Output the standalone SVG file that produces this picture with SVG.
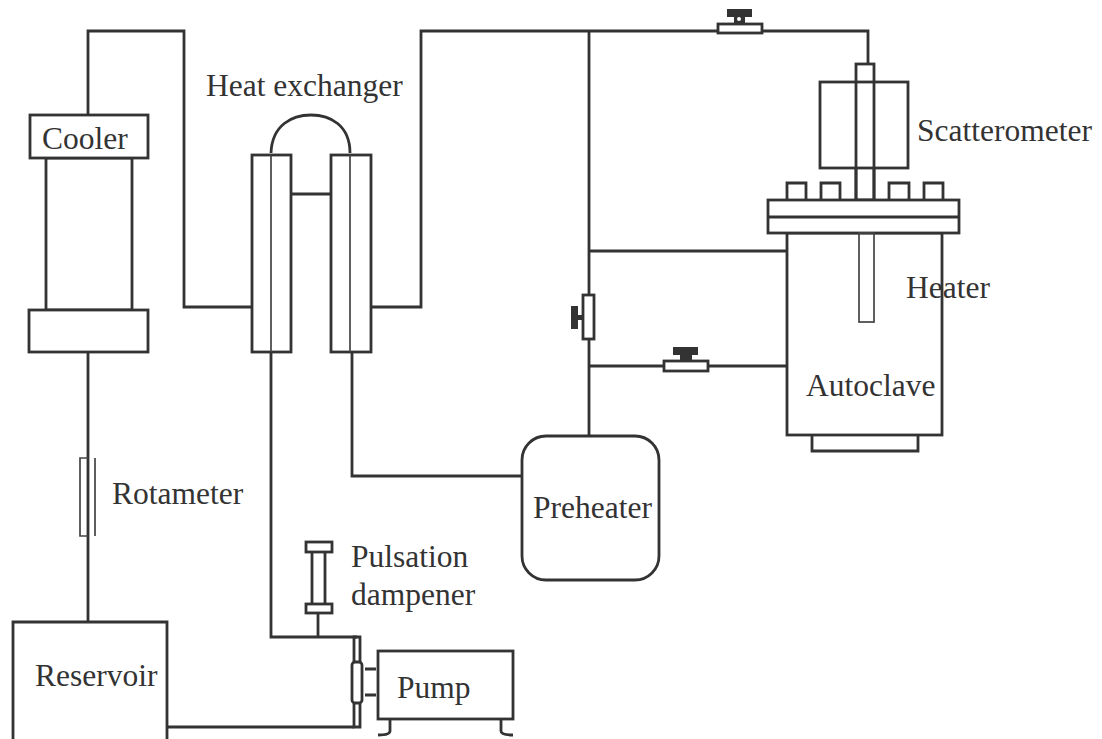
<svg xmlns="http://www.w3.org/2000/svg" width="1102" height="739" viewBox="0 0 1102 739">
<style>
.l{fill:none;stroke:#333;stroke-width:2.8}
.t{fill:none;stroke:#444;stroke-width:1.7}
.w{fill:#fff;stroke:#333;stroke-width:2.8}
.k{fill:#333;stroke:none}
text{font-family:"Liberation Serif","Times New Roman",serif;font-size:31.5px;fill:#333}
</style>
<rect width="1102" height="739" fill="#fff"/>
<g id="connectors">
<path class="l" d="M88 115V31H184V307H251"/>
<path class="l" d="M371 307H421V31H868V64"/>
<path class="l" d="M589 31V436"/>
<path class="l" d="M589 251H787"/>
<path class="l" d="M589 366H787"/>
<path class="l" d="M352 352V476H521"/>
<path class="l" d="M271 352V637H357"/>
<path class="l" d="M318 612V637"/>
<path class="l" d="M88 352V622"/>
<path class="l" d="M168 727H354"/>
<path class="l" d="M292 194H331"/>
<path class="l" d="M271 153C272 125 292 115 311 115C330 115 350 125 350 153"/>
</g>
<g id="cooler">
<rect class="l" x="46" y="158" width="86" height="152"/>
<rect class="w" x="30" y="115" width="118" height="43"/>
<rect class="w" x="29" y="310" width="119" height="42"/>
<text x="42" y="149">Cooler</text>
</g>
<g id="heat-exchanger">
<rect class="l" x="252" y="155" width="39" height="197"/>
<rect class="l" x="331" y="155" width="40" height="197"/>
<path class="t" d="M271 155V352M350 155V352"/>
<text x="206" y="96">Heat exchanger</text>
</g>
<g id="valve-top">
<rect class="w" x="718" y="24" width="44" height="9"/>
<path class="k" d="M727 9H752V17H745V24H734V17H727Z"/>
<circle cx="739" cy="19" r="2" fill="#fff"/>
</g>
<g id="scatterometer">
<rect class="l" x="820" y="82" width="88" height="86"/>
<rect class="l" x="856" y="64" width="18" height="136"/>
<text x="917" y="141">Scatterometer</text>
</g>
<g id="autoclave">
<rect class="l" x="787" y="233" width="155" height="202"/>
<path class="l" d="M812 435V451H918V435"/>
<path class="l" d="M787 200V183H806V200M821 200V183H840V200M889 200V183H909V200M924 200V183H943V200"/>
<rect class="w" x="768" y="200" width="191" height="33"/>
<path class="l" d="M768 217H959"/>
<path class="l" d="M856 168V200M874 168V200"/>
<rect class="t" x="859" y="233" width="15" height="89"/>
<text x="906" y="298">Heater</text>
<text x="806" y="396">Autoclave</text>
</g>
<g id="valve-vertical">
<rect class="w" x="583" y="295" width="11" height="44"/>
<rect class="k" x="571" y="306" width="7" height="23"/>
<rect class="k" x="578" y="315" width="5" height="5"/>
</g>
<g id="valve-horizontal">
<rect class="w" x="664" y="361" width="44" height="10"/>
<path class="k" d="M673 347H698V355H692V361H680V355H673Z"/>
</g>
<g id="preheater">
<rect class="w" x="522" y="436" width="137" height="144" rx="24"/>
<text x="533" y="518">Preheater</text>
</g>
<g id="rotameter">
<path class="t" d="M88 458H80V536H88M95 458V536"/>
<text x="112" y="504">Rotameter</text>
</g>
<g id="pulsation-dampener">
<path class="l" d="M312 551V604M325 551V604"/>
<rect class="w" x="306" y="542" width="26" height="10"/>
<rect class="w" x="306" y="604" width="26" height="9"/>
<text x="351" y="567">Pulsation</text>
<text x="351" y="605">dampener</text>
</g>
<g id="pump">
<path class="l" d="M354 637H360V727H354Z"/>
<rect class="w" x="352" y="662" width="10" height="41" rx="3"/>
<path class="l" d="M365 669H376M365 695H376"/>
<rect class="l" x="378" y="651" width="135" height="68"/>
<path class="l" d="M390 719V731Q390 735 378 735M501 719V731Q501 735 513 735"/>
<text x="397" y="698">Pump</text>
</g>
<g id="reservoir">
<path class="l" d="M13 739V622H167V739"/>
<text x="35" y="686">Reservoir</text>
</g>
</svg>
